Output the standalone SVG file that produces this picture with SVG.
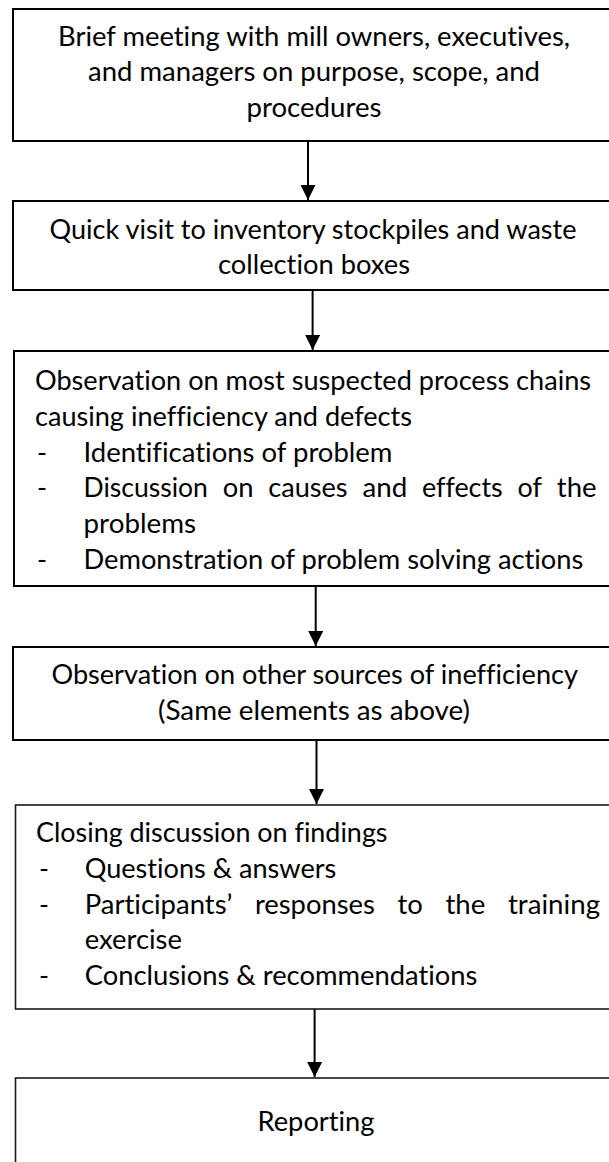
<svg xmlns="http://www.w3.org/2000/svg" width="609" height="1162" viewBox="0 0 609 1162">
<style>
.box{fill:#fff;stroke:#000;stroke-width:2}
.thin{stroke-width:1.6;stroke:#1a1a1a}
text{font-family:Lato,"Open Sans","Liberation Sans",sans-serif;font-size:27px;fill:#000;font-variant-ligatures:none;font-feature-settings:"liga" 0,"clig" 0,"dlig" 0}
.c{text-anchor:middle}
.conn line{stroke:#000;stroke-width:2;marker-end:url(#ah)}
</style>
<defs>
<marker id="ah" viewBox="0 0 10 10" refX="10" refY="5" markerUnits="userSpaceOnUse" markerWidth="15" markerHeight="15" orient="auto">
<path d="M0,0 L10,5 L0,10 Z" fill="#000"/>
</marker>
</defs>
<g id="connectors" class="conn">
<line x1="308" y1="141" x2="308" y2="200"/>
<line x1="312.6" y1="290" x2="312.6" y2="350"/>
<line x1="315.7" y1="586" x2="315.7" y2="646"/>
<line x1="316.5" y1="740" x2="316.5" y2="804"/>
<line x1="314.6" y1="1009" x2="314.6" y2="1077"/>
</g>
<g id="node1">
<rect class="box" x="13" y="9" width="607" height="132"/>
<text class="c" x="314" y="45.5" textLength="512" lengthAdjust="spacingAndGlyphs">Brief meeting with mill owners, executives,</text>
<text class="c" x="314" y="81.3" textLength="452" lengthAdjust="spacingAndGlyphs">and managers on purpose, scope, and</text>
<text class="c" x="314" y="117.1" textLength="135" lengthAdjust="spacingAndGlyphs">procedures</text>
</g>
<g id="node2">
<rect class="box" x="13" y="201" width="607" height="89"/>
<text class="c" x="313" y="238.5" textLength="527" lengthAdjust="spacingAndGlyphs">Quick visit to inventory stockpiles and waste</text>
<text class="c" x="314" y="274.3" textLength="192" lengthAdjust="spacingAndGlyphs">collection boxes</text>
</g>
<g id="node3">
<rect class="box" x="14" y="351" width="606" height="235"/>
<text x="35" y="390" textLength="556" lengthAdjust="spacingAndGlyphs">Observation on most suspected process chains</text>
<text x="35" y="425.8" textLength="377" lengthAdjust="spacingAndGlyphs">causing inefficiency and defects</text>
<text x="37" y="461.6">-</text>
<text x="83.5" y="461.6" textLength="309" lengthAdjust="spacingAndGlyphs">Identifications of problem</text>
<text x="37" y="497.4">-</text>
<text x="83.5" y="497.4" textLength="124.4" lengthAdjust="spacingAndGlyphs">Discussion</text>
<text x="222.7" y="497.4" textLength="30.8" lengthAdjust="spacingAndGlyphs">on</text>
<text x="268.3" y="497.4" textLength="79.3" lengthAdjust="spacingAndGlyphs">causes</text>
<text x="362.4" y="497.4" textLength="44.8" lengthAdjust="spacingAndGlyphs">and</text>
<text x="422" y="497.4" textLength="80.7" lengthAdjust="spacingAndGlyphs">effects</text>
<text x="517.5" y="497.4" textLength="24.4" lengthAdjust="spacingAndGlyphs">of</text>
<text x="556.8" y="497.4" textLength="39.8" lengthAdjust="spacingAndGlyphs">the</text>
<text x="83.5" y="533.2" textLength="112.6" lengthAdjust="spacingAndGlyphs">problems</text>
<text x="37" y="569">-</text>
<text x="83.5" y="569" textLength="499.8" lengthAdjust="spacingAndGlyphs">Demonstration of problem solving actions</text>
</g>
<g id="node4">
<rect class="box" x="13" y="647" width="607" height="93"/>
<text class="c" x="314.7" y="684" textLength="526.5" lengthAdjust="spacingAndGlyphs">Observation on other sources of inefficiency</text>
<text class="c" x="314" y="719.8" textLength="312" lengthAdjust="spacingAndGlyphs">(Same elements as above)</text>
</g>
<g id="node5">
<rect class="box thin" x="15.5" y="805" width="604" height="204"/>
<text x="36" y="842" textLength="351.5" lengthAdjust="spacingAndGlyphs">Closing discussion on findings</text>
<text x="39" y="877.8">-</text>
<text x="84.7" y="877.8" textLength="251.6" lengthAdjust="spacingAndGlyphs">Questions &amp; answers</text>
<text x="39" y="913.6">-</text>
<text x="84.7" y="913.6" textLength="147.6" lengthAdjust="spacingAndGlyphs">Participants’</text>
<text x="254.95" y="913.6" textLength="119.9" lengthAdjust="spacingAndGlyphs">responses</text>
<text x="397.5" y="913.6" textLength="25.3" lengthAdjust="spacingAndGlyphs">to</text>
<text x="445.5" y="913.6" textLength="39.8" lengthAdjust="spacingAndGlyphs">the</text>
<text x="507.95" y="913.6" textLength="92.1" lengthAdjust="spacingAndGlyphs">training</text>
<text x="84.7" y="949.4" textLength="97.2" lengthAdjust="spacingAndGlyphs">exercise</text>
<text x="39" y="985.2">-</text>
<text x="84.7" y="985.2" textLength="392.7" lengthAdjust="spacingAndGlyphs">Conclusions &amp; recommendations</text>
</g>
<g id="node6">
<rect class="box thin" x="15.5" y="1078" width="604" height="100"/>
<text class="c" x="316" y="1131" textLength="117" lengthAdjust="spacingAndGlyphs">Reporting</text>
</g>
</svg>
